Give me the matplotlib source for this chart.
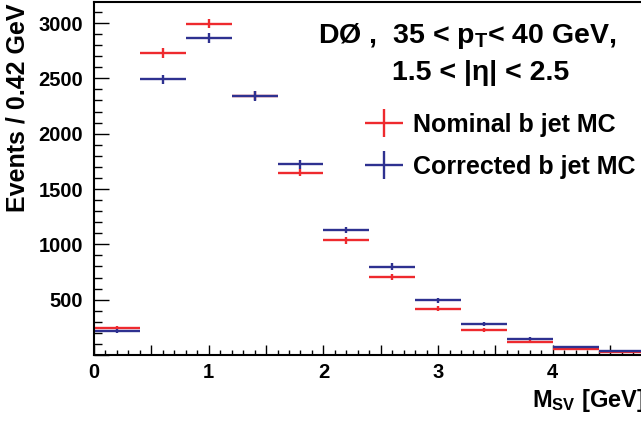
import matplotlib
matplotlib.use("Agg")
import matplotlib.pyplot as plt
from matplotlib.ticker import MultipleLocator, FuncFormatter
from matplotlib.container import ErrorbarContainer
from matplotlib.legend_handler import HandlerErrorbar

plt.rcParams['font.family'] = ['Liberation Sans', 'DejaVu Sans']
plt.rcParams['font.weight'] = 'bold'
plt.rcParams['mathtext.fontset'] = 'custom'
plt.rcParams['mathtext.rm'] = 'Liberation Sans:bold'
plt.rcParams['mathtext.it'] = 'Liberation Sans:bold'
plt.rcParams['mathtext.bf'] = 'Liberation Sans:bold'

# secondary vertex mass bins (GeV)
bin_centers = [0.2, 0.6, 1.0, 1.4, 1.8, 2.2, 2.6, 3.0, 3.4, 3.8, 4.2, 4.6]
bin_half_width = 0.2

nominal = [247, 2728, 2995, 2345, 1648, 1037, 705, 419, 229, 118, 57, 24]
nominal_err = [14, 45, 42, 45, 33, 30, 27, 22, 18, 14, 9, 6]
corrected = [217, 2490, 2862, 2340, 1724, 1130, 796, 494, 277, 147, 75, 36]
corrected_err = [14, 42, 46, 45, 42, 30, 32, 24, 18, 14, 9, 6]

RED = '#ee2a2e'
BLUE = '#2e3190'

W, H = 641, 422
X_MAX = 4.85
px_per_gev = 114.7
fig = plt.figure(figsize=(W / 100, H / 100), dpi=100)
ax = fig.add_axes([94 / W, (H - 355) / H, X_MAX * px_per_gev / W, (355 - 2) / H])

style = dict(fmt='none', elinewidth=1.7, capsize=0)
h_nom = ax.errorbar(bin_centers, nominal, xerr=bin_half_width, yerr=nominal_err,
                    ecolor=RED, **style)
h_cor = ax.errorbar(bin_centers, corrected, xerr=bin_half_width, yerr=corrected_err,
                    ecolor=BLUE, **style)

ax.set_xlim(0, X_MAX)
ax.set_ylim(0, 3190)

ax.xaxis.set_major_locator(MultipleLocator(0.5))
ax.xaxis.set_minor_locator(MultipleLocator(0.1))
ax.xaxis.set_major_formatter(FuncFormatter(lambda v, p: f"{v:.0f}" if abs(v - round(v)) < 1e-6 else ""))
ax.yaxis.set_major_locator(MultipleLocator(500))
ax.yaxis.set_minor_locator(MultipleLocator(100))
ax.yaxis.set_major_formatter(FuncFormatter(lambda v, p: f"{v:.0f}" if v > 0 else ""))

ax.tick_params(axis='both', which='both', direction='in', width=1.0, labelsize=14.5)
ax.tick_params(axis='x', which='major', length=7.2, pad=6)
ax.tick_params(axis='x', which='minor', length=3.6)
ax.tick_params(axis='y', which='major', length=10.8, pad=8)
ax.tick_params(axis='y', which='minor', length=5.8)
for sp in ax.spines.values():
    sp.set_linewidth(1.5)

fig.text(18 / W, 1 - 3 / H, "Events / 0.42 GeV", rotation=90, ha='center', va='top',
         fontsize=18, fontweight='bold')
fig.text(645 / W, 1 - 407 / H, r"M$_{SV}$ [GeV]", ha='right', va='baseline',
         fontsize=17, fontweight='bold')

fig.text(318 / W, 1 - 43 / H, r"DØ ,  35 < p$_{\mathrm{T}}$< 40 GeV,", ha='left', va='baseline',
         fontsize=20.5, fontweight='bold')
fig.text(481 / W, 1 - 80 / H, "1.5 < |η| < 2.5", ha='center', va='baseline',
         fontsize=20.5, fontweight='bold')

ax.legend([h_nom, h_cor], ["Nominal b jet MC", "Corrected b jet MC"],
          handler_map={ErrorbarContainer: HandlerErrorbar(xerr_size=0.76, yerr_size=0.56)},
          loc='upper left', bbox_to_anchor=(365 / W, 1 - 113 / H),
          bbox_transform=fig.transFigure, frameon=False, fontsize=18,
          handlelength=1.52, handletextpad=0.4, labelspacing=0.72,
          borderpad=0, borderaxespad=0)

fig.savefig("out.png", dpi=100)
